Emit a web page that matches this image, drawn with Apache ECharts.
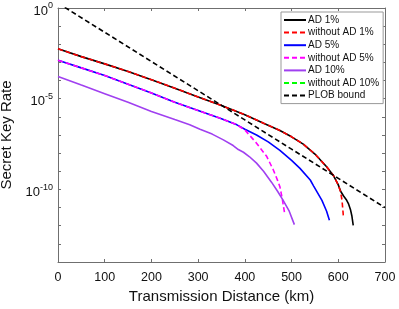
<!DOCTYPE html>
<html><head><meta charset="utf-8">
<script src="https://cdn.jsdelivr.net/npm/echarts@6/dist/echarts.min.js"></script>
<style>html,body{margin:0;padding:0;background:#fff}#c{width:399px;height:309px}</style>
</head><body><div id="c"></div>
<script>
// Distances (km) and log10(secret key rate)
const ad1_L   = [0,50,100,150,200,250,300,350,400,440,475,500,525,550,575,590,600,605,611,618,622,626,629,632];
const ad1_V   = [-2.25,-2.68,-3.08,-3.5,-3.95,-4.42,-4.9,-5.38,-5.88,-6.35,-6.75,-7.1,-7.5,-8.05,-8.75,-9.25,-9.75,-10.1,-10.35,-10.6,-10.8,-11.1,-11.45,-11.98];
const noad1_L = [0,50,100,150,200,250,300,350,400,440,475,500,525,550,575,590,600,605,608,611];
const noad1_V = [-2.25,-2.68,-3.08,-3.5,-3.95,-4.42,-4.9,-5.38,-5.88,-6.35,-6.75,-7.1,-7.5,-8.05,-8.75,-9.25,-9.75,-10.15,-10.6,-11.5];
const ad5_L   = [0,50,100,150,200,250,300,350,383,400,425,450,475,500,518,540,547,565,575,581];
const ad5_V   = [-2.88,-3.3,-3.72,-4.2,-4.68,-5.2,-5.65,-6.1,-6.44,-6.68,-7.0,-7.38,-7.85,-8.4,-8.84,-9.48,-9.8,-10.6,-11.2,-11.7];
const noad5_L = [0,50,100,150,200,250,300,350,383,400,425,447,461,470,475,480,485];
const noad5_V = [-2.88,-3.3,-3.72,-4.2,-4.68,-5.2,-5.65,-6.1,-6.44,-6.72,-7.45,-8.19,-8.93,-9.5,-9.85,-10.5,-11.3];
const ad10_L  = [0,50,100,150,200,250,282,304,330,354,375,386,397,410,425,440,457,470,482,495,506];
const ad10_V  = [-3.77,-4.25,-4.72,-5.2,-5.7,-6.15,-6.43,-6.68,-6.95,-7.27,-7.58,-7.8,-7.95,-8.2,-8.55,-9.0,-9.6,-10.1,-10.6,-11.2,-11.94];
const noad10_L = [];
const noad10_V = [];
const plob_L  = [0,100,200,300,400,500,600,700];
const plob_V  = [0.27,-1.34,-2.95,-4.56,-6.17,-7.78,-9.39,-11.0];

const xTicks = [0,100,200,300,400,500,600,700];
const yLabelExps = [0,-5,-10];

function pts(L, V){ return L.map((l,i)=>[l, Math.pow(10, V[i])]); }

const FONT = 'Liberation Sans, Arial, Helvetica, sans-serif';
const AX = '#6f6f6f';

const chart = echarts.init(document.getElementById('c'), null, {renderer:'canvas'});
function mk(name, L, V, color, dashed){
  return {name, type:'line', data:pts(L,V), symbol:'none', showSymbol:false, smooth:false, clip:true,
    xAxisIndex:0, yAxisIndex:0,
    lineStyle:{color, width:1.6, type: dashed ? [5,3] : 'solid'}, itemStyle:{color}};
}
chart.setOption({
  animation:false,
  backgroundColor:'#fff',
  grid:{left:58, right:14, top:8, bottom:47, containLabel:false, outerBoundsMode:'none'},
  legend:{
    orient:'vertical', left:281, top:12, itemWidth:22, itemHeight:10, itemGap:2.6,
    padding:[3,4,3,2], backgroundColor:'#fff', borderColor:'#999', borderWidth:1, borderRadius:0,
    itemStyle:{opacity:0, borderWidth:0},
    textStyle:{fontFamily:FONT, fontSize:10, color:'#111', padding:[0,0,0,-3]},
    data:['AD 1%','without AD 1%','AD 5%','without AD 5%','AD 10%','without AD 10%','PLOB bound']
  },
  xAxis:[{
    type:'value', min:0, max:700, interval:100, position:'bottom',
    name:'Transmission Distance (km)', nameLocation:'middle', nameGap:25,
    nameTextStyle:{fontFamily:FONT, fontSize:15, color:'#111'},
    axisLine:{onZero:false, lineStyle:{color:AX, width:1}},
    axisTick:{inside:true, length:3, lineStyle:{color:AX}},
    axisLabel:{fontFamily:FONT, fontSize:12.5, color:'#111', margin:9,
      formatter:v=> xTicks.includes(v) ? String(v) : ''},
    splitLine:{show:false}
  },{
    type:'value', min:0, max:700, interval:100, position:'top',
    axisLine:{onZero:false, lineStyle:{color:AX, width:1}},
    axisTick:{inside:true, length:3, lineStyle:{color:AX}},
    axisLabel:{show:false}, splitLine:{show:false}
  }],
  yAxis:[{
    type:'log', logBase:10, min:1e-14, max:1, interval:1, position:'left',
    name:'Secret Key Rate', nameLocation:'middle', nameGap:38,
    nameTextStyle:{fontFamily:FONT, fontSize:15, color:'#111'},
    axisLine:{onZero:false, lineStyle:{color:AX, width:1}},
    axisTick:{inside:true, length:3, lineStyle:{color:AX}},
    minorTick:{show:false},
    axisLabel:{margin:5, fontFamily:FONT, color:'#111',
      formatter:v=>{ const e=Math.round(Math.log10(v)); return yLabelExps.includes(e) ? '{b|10}{s|'+e+'}' : ''; },
      rich:{b:{fontSize:13, fontFamily:FONT, color:'#111', padding:[6,0,0,0]},
            s:{fontSize:9, fontFamily:FONT, color:'#111', padding:[0,0,4,0]}}},
    splitLine:{show:false}
  },{
    type:'log', logBase:10, min:1e-14, max:1, interval:1, position:'right',
    axisLine:{onZero:false, lineStyle:{color:AX, width:1}},
    axisTick:{inside:true, length:3, lineStyle:{color:AX}},
    axisLabel:{show:false}, splitLine:{show:false}
  }],
  series:[
    mk('AD 1%', ad1_L, ad1_V, '#000000', false),
    mk('without AD 1%', noad1_L, noad1_V, '#ff0000', true),
    mk('AD 5%', ad5_L, ad5_V, '#0000ff', false),
    mk('without AD 5%', noad5_L, noad5_V, '#ff00ff', true),
    mk('AD 10%', ad10_L, ad10_V, '#a040f0', false),
    mk('without AD 10%', noad10_L, noad10_V, '#00ff00', true),
    mk('PLOB bound', plob_L, plob_V, '#000000', true)
  ]
});
</script></body></html>
